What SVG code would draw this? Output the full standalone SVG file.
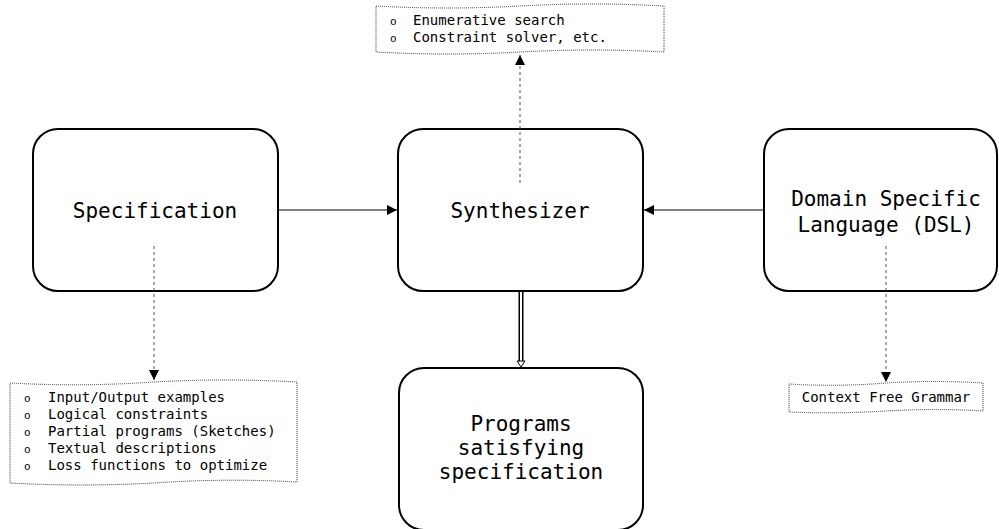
<svg xmlns="http://www.w3.org/2000/svg" width="999" height="529" viewBox="0 0 999 529">
<style>
.box{fill:#fff;stroke:#000;stroke-width:2}
.big{font-family:"DejaVu Sans Mono","Liberation Mono",monospace;font-size:21px;fill:#000;text-anchor:middle}
.sm{font-family:"DejaVu Sans Mono","Liberation Mono",monospace;font-size:14px;fill:#000}
.bul{font-family:"DejaVu Sans Mono","Liberation Mono",monospace;font-size:11px;fill:#000}
.note{fill:#fff;stroke:#333;stroke-width:1;stroke-dasharray:1 1}
.edge{fill:none;stroke:#000;stroke-width:1}
.dash{fill:none;stroke:#555;stroke-width:1;stroke-dasharray:3 3}
</style>
<defs>
<marker id="ah" viewBox="0 0 10 10" refX="10" refY="5" markerWidth="10" markerHeight="10" markerUnits="userSpaceOnUse" orient="auto">
<path d="M0,0 L10,5 L0,10 z" fill="#000"/>
</marker>
</defs>
<rect width="999" height="529" fill="#fff"/>
<g id="specification">
<rect class="box" x="33" y="129" width="245" height="162" rx="25"/>
<text class="big" x="155" y="218">Specification</text>
</g>
<g id="synthesizer">
<rect class="box" x="398" y="129" width="245" height="162" rx="25"/>
<text class="big" x="520" y="218">Synthesizer</text>
</g>
<g id="dsl">
<rect class="box" x="764" y="129" width="233" height="162" rx="25"/>
<text class="big" x="886" y="206">Domain Specific</text>
<text class="big" x="886" y="232">Language (DSL)</text>
</g>
<g id="programs">
<rect class="box" x="399" y="368" width="244" height="162" rx="25"/>
<text class="big" x="521" y="431">Programs</text>
<text class="big" x="521" y="455">satisfying</text>
<text class="big" x="521" y="479">specification</text>
</g>
<g id="search-note">
<path class="note" d="M376,6 Q448,10 520,6 Q592,2 664,6 L664,52 Q592,48 520,52 Q448,56 376,52 Z"/>
<text class="bul" x="390" y="25">o</text>
<text class="sm" x="413" y="25">Enumerative search</text>
<text class="bul" x="390" y="42">o</text>
<text class="sm" x="413" y="42">Constraint solver, etc.</text>
</g>
<g id="spec-note">
<path class="note" d="M10,383 Q82,387 154,382 Q226,378 297,382 L297,482 Q226,478 154,483 Q82,487 10,483 Z"/>
<text class="bul" x="24" y="402">o</text>
<text class="sm" x="48" y="402">Input/Output examples</text>
<text class="bul" x="24" y="419">o</text>
<text class="sm" x="48" y="419">Logical constraints</text>
<text class="bul" x="24" y="436">o</text>
<text class="sm" x="48" y="436">Partial programs (Sketches)</text>
<text class="bul" x="24" y="453">o</text>
<text class="sm" x="48" y="453">Textual descriptions</text>
<text class="bul" x="24" y="470">o</text>
<text class="sm" x="48" y="470">Loss functions to optimize</text>
</g>
<g id="grammar-note">
<path class="note" d="M789,384 Q837,387 886,383 Q935,380 983,383 L983,411 Q935,408 886,411 Q837,414 789,412 Z"/>
<text class="sm" x="886" y="402" text-anchor="middle">Context Free Grammar</text>
</g>
<g id="connectors">
<line class="edge" x1="278" y1="210" x2="397" y2="210" marker-end="url(#ah)"/>
<line class="edge" x1="764" y1="210" x2="644" y2="210" marker-end="url(#ah)"/>
<line class="dash" x1="520" y1="183" x2="520" y2="55" marker-end="url(#ah)"/>
<line class="dash" x1="154" y1="246" x2="154" y2="380" marker-end="url(#ah)"/>
<line class="dash" x1="886" y1="246" x2="886" y2="382" marker-end="url(#ah)"/>
<line x1="521" y1="292" x2="521" y2="362" stroke="#000" stroke-width="5"/>
<line x1="521" y1="292" x2="521" y2="363" stroke="#fff" stroke-width="2"/>
<path d="M517,361 L525,361 L521,367 z" fill="#fff" stroke="#000" stroke-width="1"/>
</g>
</svg>
